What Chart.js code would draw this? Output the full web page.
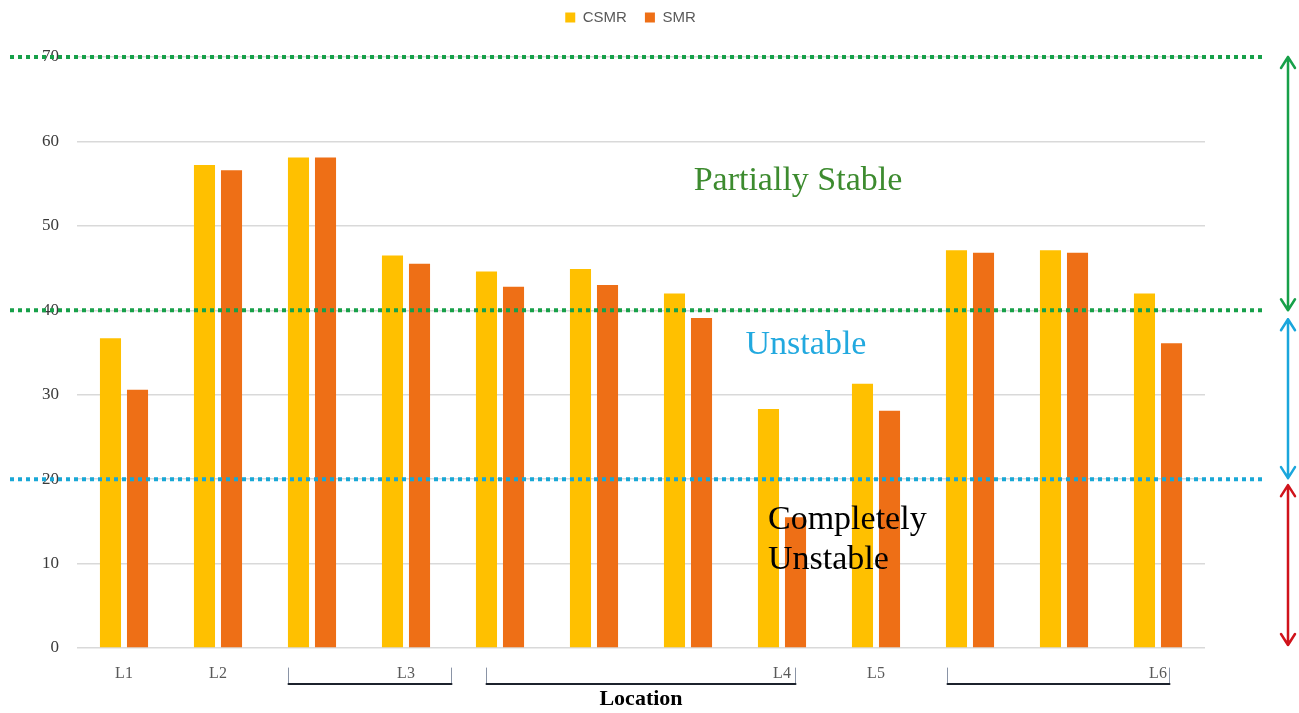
<!DOCTYPE html>
<html><head><meta charset="utf-8">
<script src="https://cdn.jsdelivr.net/npm/chart.js@4.4.1/dist/chart.umd.min.js"></script>
<style>html,body{margin:0;padding:0;background:#fff}</style>
</head><body>
<canvas id="c" width="1299" height="713"></canvas>
<script>
// Category labels (Excel-style grouped locations: unlabeled slots belong to the bracketed group)
const locations = ['L1', 'L2', '', 'L3', '', '', '', 'L4', 'L5', '', '', 'L6'];
// Series values
const csmr = [36.7, 57.2, 58.1, 46.5, 44.6, 44.9, 42.0, 28.3, 31.3, 47.1, 47.1, 42.0];
const smr  = [30.6, 56.6, 58.1, 45.5, 42.8, 43.0, 39.1, 15.5, 28.1, 46.8, 46.8, 36.1];
// Y tick values
const yTicks = [0, 10, 20, 30, 40, 50, 60, 70];
// Stability class boundaries (value axis)
const zoneBounds = [0, 20, 40, 70];

const SERIF = '"Liberation Serif", "Times New Roman", serif';

// Group brackets under the axis, in category-index units
const brackets = [
  { from: 1.74, to: 3.48 },
  { from: 3.85, to: 7.14 },
  { from: 8.76, to: 11.12 }
];

const overlay = {
  id: 'stabilityZones',
  afterDatasetsDraw(chart) {
    const { ctx } = chart;
    const y = chart.scales.y, x = chart.scales.x;
    const py = v => y.getPixelForValue(v);
    ctx.save();

    // dotted class boundaries
    const lines = [
      { v: zoneBounds[3], c: '#17a049' },
      { v: zoneBounds[2], c: '#17a049' },
      { v: zoneBounds[1], c: '#19a7d6' }
    ];
    ctx.lineWidth = 4;
    ctx.setLineDash([4, 4]);
    lines.forEach(l => {
      ctx.strokeStyle = l.c;
      ctx.beginPath();
      ctx.moveTo(10, py(l.v));
      ctx.lineTo(1266, py(l.v));
      ctx.stroke();
    });
    ctx.setLineDash([]);

    // double-headed range arrows
    const ax = 1288;
    const arrow = (y1, y2, color) => {
      ctx.strokeStyle = color;
      ctx.lineWidth = 2.5;
      ctx.lineCap = 'round';
      ctx.lineJoin = 'round';
      ctx.beginPath();
      ctx.moveTo(ax, y1); ctx.lineTo(ax, y2);
      ctx.moveTo(ax - 7, y1 + 11); ctx.lineTo(ax, y1); ctx.lineTo(ax + 7, y1 + 11);
      ctx.moveTo(ax - 7, y2 - 11); ctx.lineTo(ax, y2); ctx.lineTo(ax + 7, y2 - 11);
      ctx.stroke();
    };
    arrow(py(zoneBounds[3]), py(zoneBounds[2]), '#17a049');
    arrow(py(zoneBounds[2]) + 9, py(zoneBounds[1]) - 1, '#1aa6dc');
    arrow(py(zoneBounds[1]) + 6, py(zoneBounds[0]) - 3, '#d0131b');

    // class names
    ctx.textAlign = 'center';
    ctx.textBaseline = 'middle';
    ctx.font = '34px ' + SERIF;
    ctx.fillStyle = '#3d8b2f';
    ctx.fillText('Partially Stable', 798, 181);
    ctx.fillStyle = '#22a9df';
    ctx.fillText('Unstable', 806, 345);
    ctx.textAlign = 'left';
    ctx.fillStyle = '#000';
    ctx.font = '34px ' + SERIF;
    ctx.fillText('Completely', 768, 520);
    ctx.fillText('Unstable', 768, 560);

    // group brackets under the category labels
    const step = x.getPixelForValue(1) - x.getPixelForValue(0);
    const base = x.getPixelForValue(0);
    const top = y.bottom + 20, bot = y.bottom + 36;
    brackets.forEach(b => {
      const l = Math.round(base + b.from * step) + 0.5;
      const r = Math.round(base + b.to * step) + 0.5;
      ctx.strokeStyle = '#8a94a6';
      ctx.lineWidth = 1;
      ctx.beginPath();
      ctx.moveTo(l, top); ctx.lineTo(l, bot);
      ctx.moveTo(r, top); ctx.lineTo(r, bot);
      ctx.stroke();
      ctx.strokeStyle = '#1c222c';
      ctx.lineWidth = 2;
      ctx.beginPath();
      ctx.moveTo(l, bot); ctx.lineTo(r, bot);
      ctx.stroke();
    });
    ctx.restore();
  }
};

new Chart(document.getElementById('c'), {
  type: 'bar',
  data: {
    labels: locations,
    datasets: [
      { label: 'CSMR', data: csmr, backgroundColor: '#ffc000', borderWidth: 0,
        categoryPercentage: 0.575, barPercentage: 0.78 },
      { label: 'SMR', data: smr, backgroundColor: '#ee6f16', borderWidth: 0,
        categoryPercentage: 0.575, barPercentage: 0.78 }
    ]
  },
  options: {
    responsive: false,
    animation: false,
    layout: { padding: { left: 0, right: 38, top: -8, bottom: 0 } },
    plugins: {
      tooltip: { enabled: false },
      legend: {
        display: true,
        position: 'top',
        labels: {
          boxWidth: 10, boxHeight: 10, padding: 18,
          color: '#595959',
          font: { family: '"Liberation Sans", Arial, sans-serif', size: 15 }
        }
      },
      // blank spacer between the legend and the plot area
      title: {
        display: true, text: ' ', weight: 500,
        font: { size: 10 }, padding: { top: 5, bottom: 5 }
      }
    },
    scales: {
      x: {
        grid: { display: false, drawTicks: false },
        border: { display: false },
        ticks: {
          autoSkip: false, maxRotation: 0, padding: 16,
          color: '#595959',
          font: { family: SERIF, size: 16 }
        },
        title: {
          display: true, text: 'Location', color: '#000',
          font: { family: SERIF, size: 22, weight: 'bold' },
          padding: { top: 0, bottom: 0 }
        },
        afterFit(scale) { scale.height = 65; }
      },
      y: {
        min: 0, max: 70,
        afterBuildTicks(scale) { scale.ticks = yTicks.map(v => ({ value: v })); },
        grid: { color: '#d9d9d9', lineWidth: 1.5, drawTicks: false },
        border: { display: false },
        ticks: {
          padding: 18, color: '#3a3a3a',
          font: { family: SERIF, size: 17 }
        },
        afterFit(scale) { scale.width = 77; }
      },
      // empty right-hand gutter that holds the range arrows
      gutter: {
        type: 'linear', position: 'right', display: true,
        grid: { display: false, drawTicks: false },
        border: { display: false },
        ticks: { display: false },
        afterFit(scale) { scale.width = 56; }
      }
    }
  },
  plugins: [overlay]
});
</script>
</body></html>
